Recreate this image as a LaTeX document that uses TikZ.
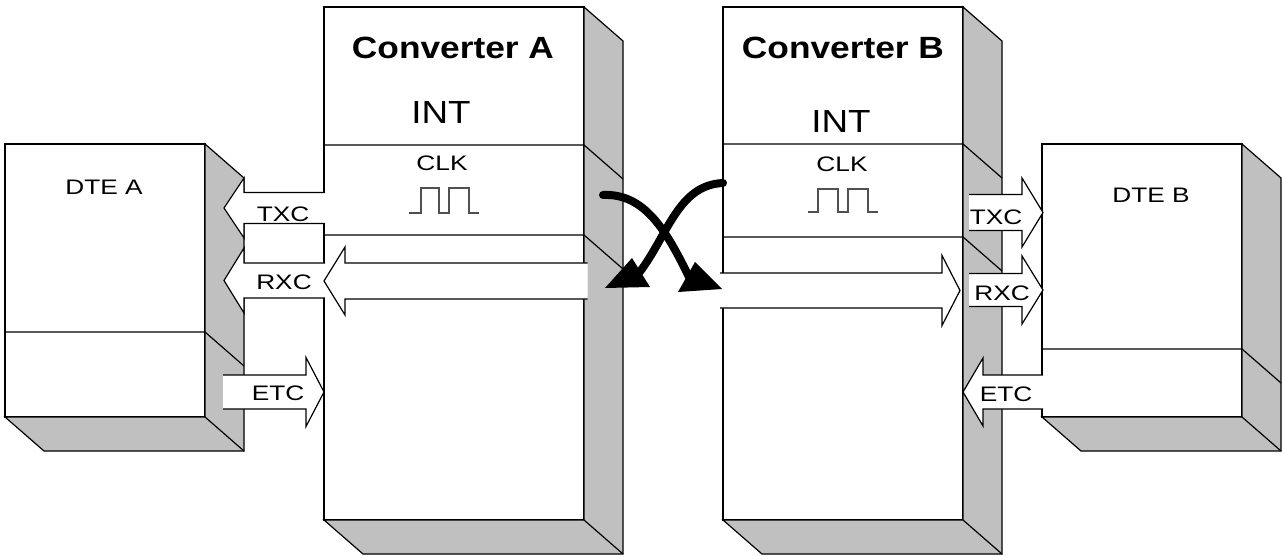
\documentclass[tikz,border=0pt]{standalone}
\usepackage{fontspec}
\setmainfont{Liberation Sans}
\newfontfamily\headfont[FakeStretch=1.15]{Liberation Sans}
\newfontfamily\labelfont[FakeStretch=1.25]{Liberation Sans}
\usetikzlibrary{calc}
\definecolor{shade}{HTML}{C0C0C0}
\definecolor{pulsegrey}{HTML}{505050}

\tikzset{
  outline/.style={draw=black, line width=1.2pt, line join=miter},
  face/.style={outline, fill=white, inner sep=0pt, outer sep=0pt},
  title/.style={font=\headfont\bfseries\fontsize{30.7pt}{31pt}\selectfont, inner sep=0pt, anchor=base},
  mode/.style={font=\headfont\fontsize{32pt}{32pt}\selectfont, inner sep=0pt, anchor=base},
  lbl/.style={font=\labelfont\fontsize{21pt}{21pt}\selectfont, inner sep=0pt, anchor=base},
  pulse/.style={draw=pulsegrey, line width=1.5pt},
  clkwire/.style={draw=black, line width=8pt, line cap=round},
}

% right and bottom faces of a box whose front face is node #1
\newcommand\slabsides[1]{%
  \filldraw[outline, fill=shade] (#1.north east) -- ++(39,34)
    -- ($(#1.south east)+(39,34)$) -- ($(#1.south west)+(39,34)$)
    -- (#1.south west) -- (#1.south east) -- cycle;
  \draw[outline] (#1.south east) -- ++(39,34);}

% block arrow: tip x, tip y, head base x, head half height, body half height, open end x
\newcommand\blockarrow[6]{%
  \fill[white] (#6,#2-#5) -- (#3,#2-#5) -- (#3,#2-#4) -- (#1,#2)
    -- (#3,#2+#4) -- (#3,#2+#5) -- (#6,#2+#5) -- cycle;
  \draw[outline] (#6,#2-#5) -- (#3,#2-#5) -- (#3,#2-#4) -- (#1,#2)
    -- (#3,#2+#4) -- (#3,#2+#5) -- (#6,#2+#5);}

\begin{document}
\begin{tikzpicture}[x=1pt,y=-1pt]
\useasboundingbox (0,0) rectangle (1282,556);
\fill[white] (0,0) rectangle (1282,556);

% front faces
\node[face, minimum width=200pt, minimum height=273pt] (dteA)  at (105,280.5) {};
\node[face, minimum width=260pt, minimum height=513pt] (convA) at (454,263.5) {};
\node[face, minimum width=240pt, minimum height=513pt] (convB) at (843,263.5) {};
\node[face, minimum width=200pt, minimum height=273pt] (dteB)  at (1142,280.5) {};

% depth faces
\slabsides{dteA}
\slabsides{convA}
\slabsides{convB}
\slabsides{dteB}

% section lines
\draw[outline] (5,332) -- (205,332) -- ++(39,34);
\draw[outline] (324,145) -- (584,145) -- ++(39,34);
\draw[outline] (324,235) -- (584,235) -- ++(39,34);
\draw[outline] (723,144) -- (963,144) -- ++(39,34);
\draw[outline] (723,237) -- (963,237) -- ++(39,34);
\draw[outline] (1042,349) -- (1242,349) -- ++(39,34);

% signal arrows
\blockarrow{224}{208}{244}{30}{15.5}{325}
\blockarrow{224}{280.5}{244}{32.5}{17.5}{325}
\blockarrow{324}{281}{345}{34}{18}{587.5}
\blockarrow{324}{392}{306}{34.5}{17}{223}
\blockarrow{960}{290.5}{942}{35}{17.5}{720}
\blockarrow{1043}{212.5}{1022}{34.5}{18}{969}
\blockarrow{1043}{290}{1022}{34}{16.5}{969}
\blockarrow{963}{392}{983}{34}{17}{1043}

% clock waveforms
\draw[pulse] (409,213) -- (421,213) -- (421,188) -- (439,188) -- (439,213)
  -- (449,213) -- (449,188) -- (469,188) -- (469,213) -- (479,213);
\draw[pulse] (808,212) -- (818,212) -- (818,189) -- (838,189) -- (838,212)
  -- (848,212) -- (848,189) -- (868,189) -- (868,212) -- (878,212);

% texts
\node[title] (convAname) at (453,59) {Converter A};
\node[title] (convBname) at (843,59) {Converter B};
\node[mode] (intA) at (441,124) {INT};
\node[mode] (intB) at (841,133) {INT};
\node[lbl] (clkA) at (442,171) {CLK};
\node[lbl] (clkB) at (842,172) {CLK};
\node[lbl] (dteAname) at (104,195) {DTE A};
\node[lbl] (dteBname) at (1151,203) {DTE B};
\node[lbl] (txcA) at (283,222) {TXC};
\node[lbl] (rxcA) at (284,289) {RXC};
\node[lbl] (etcA) at (278,400) {ETC};
\node[lbl] (txcB) at (996,225) {TXC};
\node[lbl] (rxcB) at (1002,300) {RXC};
\node[lbl] (etcB) at (1006,401) {ETC};

% crossed clock paths
\coordinate (outA) at (603,195);
\coordinate (outB) at (723,183);
\coordinate (inB) at (689,277);
\coordinate (inA) at (639,273);
\draw[clkwire] (outA) .. controls (645,193) and (667,232) .. (inB);
\draw[clkwire] (outB) .. controls (678,185) and (668,235) .. (inA);
\fill[black] (695,262) -- (722,289) -- (678,292) -- cycle;
\fill[black] (632,258) -- (605,288) -- (650,287) -- cycle;
\end{tikzpicture}
\end{document}
